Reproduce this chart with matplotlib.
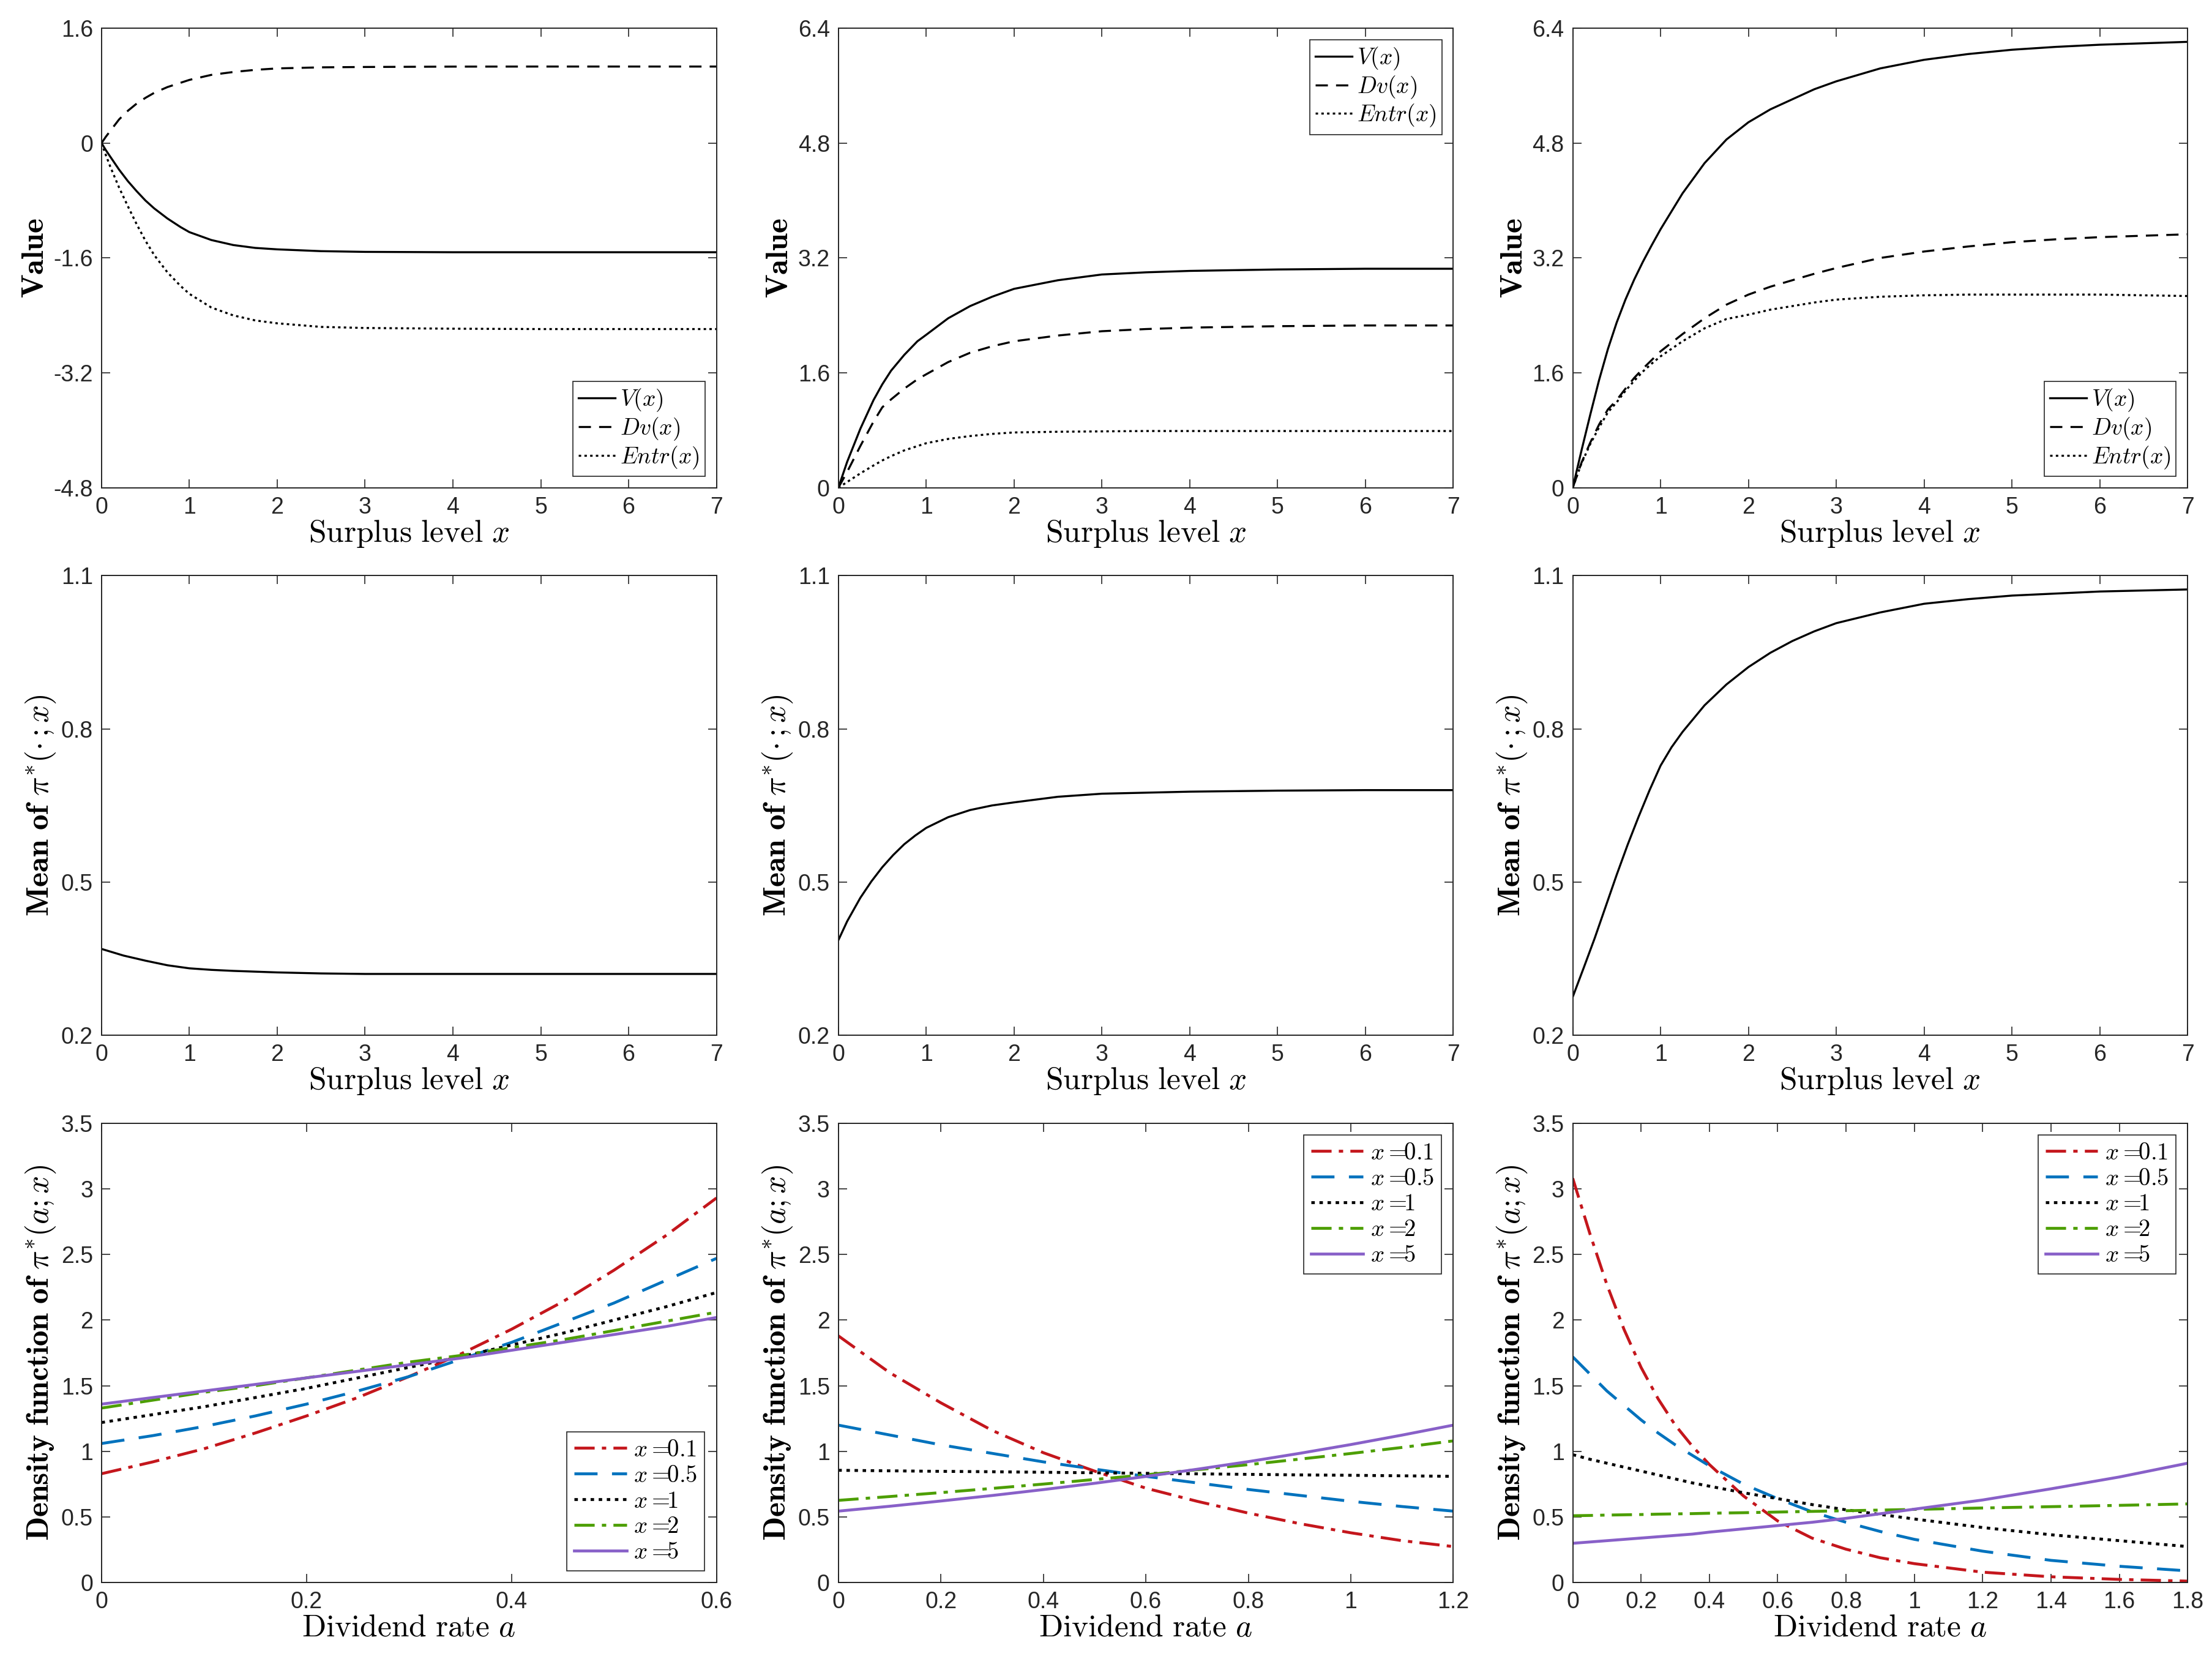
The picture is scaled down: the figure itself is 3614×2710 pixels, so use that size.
import numpy as np
import matplotlib
matplotlib.use("Agg")
import matplotlib.pyplot as plt

plt.rcParams['mathtext.fontset'] = 'cm'
plt.rcParams['font.family'] = ['Liberation Sans', 'DejaVu Sans']
plt.rcParams['axes.unicode_minus'] = False

# ---------------- data ----------------
# Row 1, col 1
x11 = [0, 0.05, 0.1, 0.2, 0.3, 0.4, 0.5, 0.6, 0.75, 0.9, 1, 1.25, 1.5, 1.75, 2, 2.5, 3, 4, 5, 6, 7]
V11 = [0, -0.10, -0.19, -0.37, -0.53, -0.67, -0.80, -0.91, -1.05, -1.17, -1.24, -1.35, -1.42, -1.46, -1.48,
       -1.505, -1.515, -1.52, -1.52, -1.52, -1.52]
Dv11 = [0, 0.09, 0.17, 0.33, 0.45, 0.55, 0.63, 0.70, 0.78, 0.84, 0.88, 0.95, 0.99, 1.02, 1.04,
        1.055, 1.06, 1.065, 1.066, 1.066, 1.066]
En11 = [0, -0.17, -0.33, -0.62, -0.88, -1.13, -1.36, -1.56, -1.80, -1.99, -2.10, -2.29, -2.40, -2.47, -2.51,
        -2.56, -2.575, -2.585, -2.59, -2.59, -2.59]

# Row 1, col 2
x12 = [0, 0.1, 0.25, 0.4, 0.5, 0.6, 0.75, 0.9, 1, 1.25, 1.5, 1.75, 2, 2.5, 3, 3.5, 4, 5, 6, 7]
V12 = [0, 0.36, 0.82, 1.22, 1.44, 1.63, 1.85, 2.04, 2.13, 2.36, 2.53, 2.66, 2.77, 2.89, 2.97, 3.00, 3.02, 3.04, 3.05, 3.05]
Dv12 = [0, 0.22, 0.58, 0.92, 1.12, 1.23, 1.38, 1.51, 1.58, 1.75, 1.88, 1.97, 2.04, 2.12, 2.18, 2.21, 2.23, 2.25, 2.26, 2.26]
En12 = [0, 0.08, 0.20, 0.31, 0.38, 0.44, 0.52, 0.58, 0.62, 0.68, 0.72, 0.75, 0.77, 0.78, 0.785, 0.79, 0.79, 0.79, 0.79, 0.79]

# Row 1, col 3
x13 = [0, 0.1, 0.2, 0.3, 0.4, 0.5, 0.6, 0.7, 0.8, 0.9, 1, 1.25, 1.5, 1.75, 2, 2.25, 2.5, 2.75, 3,
       3.5, 4, 4.5, 5, 5.5, 6, 6.5, 7]
V13 = [0, 0.52, 1.02, 1.50, 1.93, 2.30, 2.62, 2.90, 3.15, 3.38, 3.60, 4.10, 4.52, 4.85, 5.09, 5.27, 5.41, 5.55, 5.66,
       5.84, 5.96, 6.04, 6.10, 6.14, 6.17, 6.19, 6.21]
Dv13 = [0, 0.35, 0.63, 0.88, 1.09, 1.22, 1.38, 1.53, 1.66, 1.78, 1.90, 2.14, 2.36, 2.55, 2.69, 2.80, 2.89, 2.98, 3.06,
        3.20, 3.29, 3.36, 3.42, 3.46, 3.49, 3.51, 3.53]
En13 = [0, 0.34, 0.61, 0.84, 1.05, 1.19, 1.35, 1.49, 1.62, 1.73, 1.83, 2.04, 2.22, 2.35, 2.41, 2.48, 2.53, 2.58, 2.62,
        2.66, 2.68, 2.69, 2.69, 2.69, 2.69, 2.68, 2.67]

# Row 2: mean of pi*
x21 = [0, 0.25, 0.5, 0.75, 1, 1.25, 1.5, 2, 2.5, 3, 4, 5, 6, 7]
M21 = [0.369, 0.356, 0.346, 0.337, 0.331, 0.328, 0.326, 0.323, 0.321, 0.320, 0.320, 0.320, 0.320, 0.320]
x22 = [0, 0.1, 0.25, 0.375, 0.5, 0.625, 0.75, 0.875, 1, 1.25, 1.5, 1.75, 2, 2.5, 3, 4, 5, 6, 7]
M22 = [0.386, 0.423, 0.469, 0.501, 0.529, 0.553, 0.574, 0.591, 0.606, 0.627, 0.641, 0.650, 0.656, 0.667, 0.673,
       0.677, 0.679, 0.680, 0.680]
x23 = [0, 0.125, 0.25, 0.375, 0.5, 0.625, 0.75, 0.875, 1, 1.125, 1.25, 1.5, 1.75, 2, 2.25, 2.5, 2.75, 3,
       3.5, 4, 4.5, 5, 6, 7]
M23 = [0.275, 0.332, 0.390, 0.452, 0.514, 0.573, 0.628, 0.680, 0.728, 0.764, 0.794, 0.846, 0.887, 0.921, 0.949,
       0.972, 0.991, 1.007, 1.028, 1.045, 1.054, 1.061, 1.069, 1.073]

# Row 3: density functions
levels = ['0.1', '0.5', '1', '2', '5']
a31 = [0, 0.05, 0.1, 0.15, 0.2, 0.25, 0.3, 0.35, 0.4, 0.45, 0.5, 0.55, 0.6]
d31 = [
    [0.83, 0.92, 1.02, 1.14, 1.27, 1.41, 1.57, 1.74, 1.93, 2.14, 2.38, 2.64, 2.93],
    [1.06, 1.12, 1.19, 1.27, 1.36, 1.46, 1.57, 1.70, 1.83, 1.98, 2.13, 2.30, 2.47],
    [1.22, 1.28, 1.34, 1.41, 1.48, 1.56, 1.64, 1.72, 1.81, 1.90, 2.00, 2.10, 2.21],
    [1.33, 1.39, 1.45, 1.50, 1.56, 1.62, 1.68, 1.73, 1.79, 1.85, 1.92, 1.99, 2.06],
    [1.36, 1.41, 1.46, 1.51, 1.56, 1.61, 1.66, 1.71, 1.77, 1.83, 1.89, 1.95, 2.02],
]
a32 = [0, 0.1, 0.2, 0.3, 0.4, 0.5, 0.6, 0.7, 0.8, 0.9, 1.0, 1.1, 1.2]
d32 = [
    [1.88, 1.60, 1.37, 1.16, 0.99, 0.85, 0.72, 0.62, 0.53, 0.45, 0.38, 0.32, 0.275],
    [1.20, 1.125, 1.05, 0.985, 0.92, 0.865, 0.81, 0.76, 0.71, 0.665, 0.62, 0.58, 0.545],
    [0.856, 0.852, 0.848, 0.845, 0.841, 0.837, 0.833, 0.829, 0.825, 0.821, 0.818, 0.814, 0.81],
    [0.627, 0.656, 0.686, 0.718, 0.751, 0.786, 0.822, 0.860, 0.899, 0.941, 0.984, 1.030, 1.08],
    [0.545, 0.582, 0.622, 0.664, 0.709, 0.757, 0.809, 0.864, 0.922, 0.985, 1.052, 1.124, 1.20],
]
a33 = [0, 0.05, 0.1, 0.15, 0.2, 0.25, 0.3, 0.35, 0.4, 0.5, 0.6, 0.7, 0.8, 0.9, 1.0, 1.2, 1.4, 1.6, 1.8]
d33 = [
    [3.08, 2.66, 2.27, 1.93, 1.64, 1.40, 1.20, 1.04, 0.90, 0.66, 0.47, 0.34, 0.255, 0.19, 0.145, 0.08, 0.045, 0.025, 0.012],
    [1.72, 1.59, 1.46, 1.35, 1.24, 1.14, 1.05, 0.97, 0.89, 0.75, 0.64, 0.54, 0.46, 0.39, 0.33, 0.24, 0.17, 0.125, 0.09],
    [0.975, 0.94, 0.91, 0.88, 0.85, 0.82, 0.79, 0.76, 0.735, 0.685, 0.64, 0.595, 0.555, 0.52, 0.485, 0.42, 0.365, 0.32, 0.275],
    [0.51, 0.512, 0.515, 0.517, 0.519, 0.522, 0.524, 0.526, 0.529, 0.533, 0.538, 0.543, 0.548, 0.553, 0.558, 0.569, 0.579, 0.589, 0.60],
    [0.30, 0.31, 0.32, 0.33, 0.34, 0.35, 0.36, 0.37, 0.385, 0.41, 0.435, 0.46, 0.49, 0.525, 0.56, 0.63, 0.715, 0.805, 0.91],
]

yt_row1 = [[-4.8, -3.2, -1.6, 0, 1.6], [0, 1.6, 3.2, 4.8, 6.4], [0, 1.6, 3.2, 4.8, 6.4]]
ytl_row1 = [['-4.8', '-3.2', '-1.6', '0', '1.6'], ['0', '1.6', '3.2', '4.8', '6.4'], ['0', '1.6', '3.2', '4.8', '6.4']]
yt_row2 = [0.2, 0.5, 0.8, 1.1]
ytl_row2 = ['0.2', '0.5', '0.8', '1.1']
yt_row3 = [0, 0.5, 1, 1.5, 2, 2.5, 3, 3.5]
ytl_row3 = ['0', '0.5', '1', '1.5', '2', '2.5', '3', '3.5']
xt_surplus = [0, 1, 2, 3, 4, 5, 6, 7]
xt_row3 = [[0, 0.2, 0.4, 0.6], [0, 0.2, 0.4, 0.6, 0.8, 1, 1.2],
           [0, 0.2, 0.4, 0.6, 0.8, 1, 1.2, 1.4, 1.6, 1.8]]
xtl_row3 = [['0', '0.2', '0.4', '0.6'], ['0', '0.2', '0.4', '0.6', '0.8', '1', '1.2'],
            ['0', '0.2', '0.4', '0.6', '0.8', '1', '1.2', '1.4', '1.6', '1.8']]

# ---------------- styling ----------------
TXT = '#262626'
dens_colors = ['#C4161C', '#0072BD', '#000000', '#4C9E00', '#8860C8']
dens_styles = [(0, (7, 2.5, 1.5, 2.5)), (0, (8, 5)), (0, (1.2, 1.6)), (0, (7, 2.5, 1.5, 2.5)), '-']
blk_styles = ['-', (0, (6, 4)), (0, (1.2, 1.6))]

fig = plt.figure(figsize=(18.07, 13.55), dpi=200)
lefts = [0.0459, 0.379, 0.711]
width = 0.278
bottoms = [0.706, 0.376, 0.046]
height = 0.277

LABEL_FS = 18.5
TICK_FS = 13.5


def style_axes(ax):
    ax.tick_params(direction='in', top=True, right=True, length=5, width=0.6,
                   labelsize=TICK_FS, colors=TXT, pad=5)
    for s in ax.spines.values():
        s.set_linewidth(0.7)
        s.set_color(TXT)


axes = [[fig.add_axes([lefts[c], bottoms[r], width, height]) for c in range(3)] for r in range(3)]

# Row 1
row1 = [(x11, V11, Dv11, En11), (x12, V12, Dv12, En12), (x13, V13, Dv13, En13)]
leg_loc1 = ['lower right', 'upper right', 'lower right']
names1 = [r'$V(x)$', r'$Dv(x)$', r'$Entr(x)$']
for c in range(3):
    ax = axes[0][c]
    xs, V, Dv, En = row1[c]
    for ys, ls, nm in zip([V, Dv, En], blk_styles, names1):
        ax.plot(xs, ys, color='k', lw=1.2, linestyle=ls, label=nm)
    ax.set_xlim(0, 7)
    ax.set_ylim(yt_row1[c][0], yt_row1[c][-1])
    ax.set_xticks(xt_surplus)
    ax.set_xticklabels([str(v) for v in xt_surplus])
    ax.set_yticks(yt_row1[c])
    ax.set_yticklabels(ytl_row1[c])
    ax.set_xlabel(r'$\mathrm{Surplus\ level}\ x$', fontsize=LABEL_FS, labelpad=0)
    ax.set_ylabel(r'$\mathbf{Value}$', fontsize=LABEL_FS, labelpad=2)
    style_axes(ax)
    leg = ax.legend(loc=leg_loc1[c], fontsize=13.5, fancybox=False, framealpha=1,
                    edgecolor=TXT, handlelength=1.6, handletextpad=0.2,
                    borderpad=0.25, labelspacing=0.1, borderaxespad=0.5)
    leg.get_frame().set_linewidth(0.6)

# Row 2
row2 = [(x21, M21), (x22, M22), (x23, M23)]
for c in range(3):
    ax = axes[1][c]
    xs, M = row2[c]
    ax.plot(xs, M, color='k', lw=1.2)
    ax.set_xlim(0, 7)
    ax.set_ylim(0.2, 1.1)
    ax.set_xticks(xt_surplus)
    ax.set_xticklabels([str(v) for v in xt_surplus])
    ax.set_yticks(yt_row2)
    ax.set_yticklabels(ytl_row2)
    ax.set_xlabel(r'$\mathrm{Surplus\ level}\ x$', fontsize=LABEL_FS, labelpad=0)
    ax.set_ylabel(r'$\mathbf{Mean\ of}\ \pi^{*}(\cdot\,;x)$', fontsize=LABEL_FS, labelpad=2)
    style_axes(ax)

# Row 3
row3 = [(a31, d31), (a32, d32), (a33, d33)]
leg_loc3 = ['lower right', 'upper right', 'upper right']
for c in range(3):
    ax = axes[2][c]
    a, dens = row3[c]
    for i in range(5):
        ax.plot(a, dens[i], color=dens_colors[i], linestyle=dens_styles[i], lw=1.7,
                label=r'$x=\!\!%s$' % levels[i])
    ax.set_xlim(a[0], a[-1])
    ax.set_ylim(0, 3.5)
    ax.set_xticks(xt_row3[c])
    ax.set_xticklabels(xtl_row3[c])
    ax.set_yticks(yt_row3)
    ax.set_yticklabels(ytl_row3)
    ax.set_xlabel(r'$\mathrm{Dividend\ rate}\ a$', fontsize=LABEL_FS, labelpad=0)
    ax.set_ylabel(r'$\mathbf{Density\ function\ of}\ \pi^{*}(a;x)$', fontsize=LABEL_FS, labelpad=2)
    style_axes(ax)
    leg = ax.legend(loc=leg_loc3[c], fontsize=14, fancybox=False, framealpha=1,
                    edgecolor=TXT, handlelength=2.2, handletextpad=0.3,
                    borderpad=0.3, labelspacing=0.15, borderaxespad=0.5)
    leg.get_frame().set_linewidth(0.6)

fig.savefig('out.png', dpi=200)
